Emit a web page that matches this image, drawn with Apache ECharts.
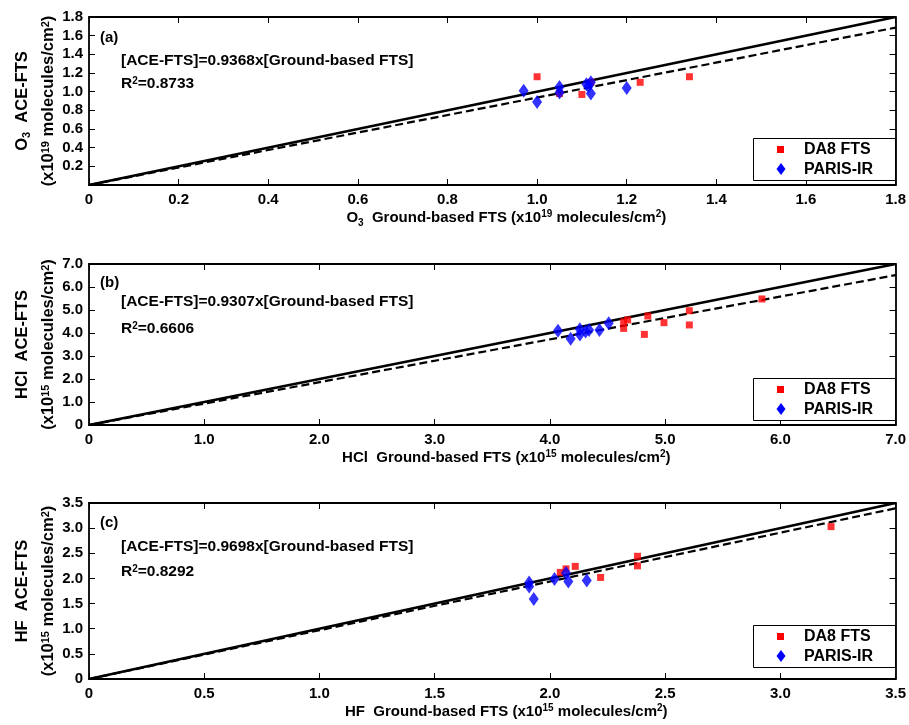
<!DOCTYPE html>
<html>
<head>
<meta charset="utf-8">
<script src="https://cdn.jsdelivr.net/npm/echarts@6/dist/echarts.min.js"></script>
<style>
  html, body { margin: 0; padding: 0; background: #fff; }
  #chart { width: 909px; height: 725px; }
</style>
</head>
<body>
<div id="chart"></div>
<script>
// ---- Data: [ground-based FTS, ACE-FTS] column pairs ----
// O3 (x10^19 molecules/cm^2)
const o3Da8 = [[1.00, 1.16], [1.05, 0.98], [1.10, 0.97], [1.12, 1.10], [1.23, 1.10], [1.34, 1.16]];
const o3Paris = [[0.97, 1.01], [1.00, 0.89], [1.05, 1.05], [1.05, 0.99], [1.11, 1.08], [1.115, 1.06], [1.12, 1.10], [1.12, 0.98], [1.20, 1.04]];
// HCl (x10^15 molecules/cm^2)
const hclDa8 = [[4.64, 4.20], [4.64, 4.49], [4.675, 4.57], [4.82, 3.94], [4.85, 4.74], [4.99, 4.45], [5.21, 4.97], [5.21, 4.35], [5.84, 5.48]];
const hclParis = [[4.07, 4.10], [4.18, 3.75], [4.26, 3.94], [4.26, 4.16], [4.31, 4.06], [4.34, 4.13], [4.43, 4.13], [4.51, 4.42]];
// HF (x10^15 molecules/cm^2)
const hfDa8 = [[3.22, 3.03], [2.38, 2.44], [2.38, 2.25], [2.11, 2.24], [2.07, 2.19], [2.045, 2.12], [2.22, 2.02]];
const hfParis = [[1.91, 1.92], [1.91, 1.84], [1.93, 1.59], [2.02, 1.99], [2.07, 2.11], [2.08, 1.94], [2.16, 1.96]];

// Regression results
const slopes = [0.9368, 0.9307, 0.9698];
const rSquared = ['0.8733', '0.6606', '0.8292'];

// Axis ranges and tick steps
const axisMax = [1.8, 7.0, 3.5];
const axisStep = [0.2, 1.0, 0.5];
const hideZeroY = [true, false, false];

// Labels
const panelTags = ['(a)', '(b)', '(c)'];
const gasName = ['{b|O}{sub|3}', '{b|HCl}', '{b|HF}'];
const exponent = ['19', '15', '15'];
const seriesNames = ['DA8 FTS', 'PARIS-IR'];

const panelData = [[o3Da8, o3Paris], [hclDa8, hclParis], [hfDa8, hfParis]];

// ---- Layout ----
const FONT = '"Liberation Sans", Arial, Helvetica, sans-serif';
const gridLeft = 89, gridRight = 11;
const gridBoxes = [{ top: 17, height: 168 }, { top: 264, height: 161 }, { top: 503, height: 176 }];
const textOffsets = [[21, 44, 68], [19, 38, 66], [20, 44, 70]];
const legendGap = [5, 5, 12];

const richStyles = {
  b:   { fontFamily: FONT, fontWeight: 'bold', fontSize: 15, color: '#000', lineHeight: 16, verticalAlign: 'bottom' },
  sup: { fontFamily: FONT, fontWeight: 'bold', fontSize: 10, color: '#000', lineHeight: 11, verticalAlign: 'top' },
  sub: { fontFamily: FONT, fontWeight: 'bold', fontSize: 10, color: '#000', lineHeight: 10, verticalAlign: 'bottom', padding: [0, 0, -3, 0] }
};
// vertical axis titles: slightly larger type and wider line spacing
const richY = {
  b:   { fontFamily: FONT, fontWeight: 'bold', fontSize: 16.5, color: '#000', lineHeight: 26, verticalAlign: 'top' },
  sup: { fontFamily: FONT, fontWeight: 'bold', fontSize: 11, color: '#000', verticalAlign: 'top' },
  sub: { fontFamily: FONT, fontWeight: 'bold', fontSize: 11, color: '#000', verticalAlign: 'top', padding: [7, 0, 0, 0] }
};

const fmt = (v, hideZero) => {
  if (Math.abs(v) < 1e-9) return hideZero ? '' : '0';
  return v.toFixed(1);
};

const grid = [], xAxis = [], yAxis = [], series = [], graphic = [];

panelData.forEach((pair, i) => {
  const g = gridBoxes[i];
  grid.push({ left: gridLeft, right: gridRight, top: g.top, height: g.height, containLabel: false });

  const tickLabel = { fontFamily: FONT, fontWeight: 'bold', fontSize: 15, color: '#000' };
  const axisLine = { show: true, onZero: false, lineStyle: { color: '#000', width: 1.8 } };
  const axisTick = { show: true, inside: true, length: 6, lineStyle: { color: '#000', width: 1 } };
  const unit = '{b|(x10}{sup|' + exponent[i] + '}{b| molecules/cm}{sup|2}{b|)}';

  // bottom and top x axes
  xAxis.push({
    type: 'value', gridIndex: i, min: 0, max: axisMax[i], interval: axisStep[i],
    position: 'bottom',
    axisLine, axisTick, splitLine: { show: false },
    axisLabel: Object.assign({ margin: 7, formatter: v => fmt(v, false) }, tickLabel),
    name: gasName[i] + '{b|  Ground-based FTS }' + unit,
    nameLocation: 'middle', nameGap: 24,
    nameTextStyle: { rich: richStyles, padding: [0, 0, 0, 28] }
  });
  xAxis.push({
    type: 'value', gridIndex: i, min: 0, max: axisMax[i], interval: axisStep[i],
    position: 'top', axisLine, axisTick, axisLabel: { show: false }, splitLine: { show: false }
  });

  // left and right y axes
  yAxis.push({
    type: 'value', gridIndex: i, min: 0, max: axisMax[i], interval: axisStep[i],
    position: 'left',
    axisLine, axisTick, splitLine: { show: false },
    axisLabel: Object.assign({ margin: 6, formatter: v => fmt(v, hideZeroY[i]) }, tickLabel),
    name: gasName[i] + '{b|  ACE-FTS}\n' + unit,
    nameLocation: 'middle', nameRotate: 90, nameGap: 23, nameMoveOverlap: false,
    nameTextStyle: { rich: richY, align: 'center' }
  });
  yAxis.push({
    type: 'value', gridIndex: i, min: 0, max: axisMax[i], interval: axisStep[i],
    position: 'right', axisLine, axisTick, axisLabel: { show: false }, splitLine: { show: false }
  });

  const xi = i * 2, yi = i * 2;
  const top = axisMax[i];

  // 1:1 reference line
  series.push({
    type: 'line', xAxisIndex: xi, yAxisIndex: yi, silent: true, symbol: 'none', z: 2,
    lineStyle: { color: '#000', width: 2.6, type: 'solid' },
    data: [[0, 0], [top, top]]
  });
  // fitted line through origin
  series.push({
    type: 'line', xAxisIndex: xi, yAxisIndex: yi, silent: true, symbol: 'none', z: 2,
    lineStyle: { color: '#000', width: 2.2, type: [8, 4] },
    data: [[0, 0], [top, top * slopes[i]]]
  });
  // measurements
  series.push({
    name: seriesNames[0], type: 'scatter', xAxisIndex: xi, yAxisIndex: yi, z: 3,
    symbol: 'rect', symbolSize: 7, itemStyle: { color: '#ff0000' },
    data: pair[0]
  });
  series.push({
    name: seriesNames[1], type: 'scatter', xAxisIndex: xi, yAxisIndex: yi, z: 4,
    symbol: 'diamond', symbolSize: [10, 14], itemStyle: { color: '#0000ff' },
    data: pair[1]
  });

  // annotations
  const to = textOffsets[i];
  graphic.push({
    type: 'text', x: 100, y: g.top + to[0], z: 10,
    style: { text: panelTags[i], font: 'bold 15px ' + FONT, fill: '#000', verticalAlign: 'middle' }
  });
  graphic.push({
    type: 'text', x: 121, y: g.top + to[1], z: 10,
    style: { text: '[ACE-FTS]=' + slopes[i].toFixed(4) + 'x[Ground-based FTS]', font: 'bold 15.5px ' + FONT, fill: '#000', verticalAlign: 'middle' }
  });
  graphic.push({
    type: 'text', x: 121, y: g.top + to[2] - 9, z: 10,
    style: { text: '{b|R}{sup|2}{b|=' + rSquared[i] + '}', rich: {
      b: Object.assign({}, richStyles.b, { fontSize: 15.5 }), sup: richStyles.sup }, verticalAlign: 'top' }
  });

  // legend box
  const boxH = 42, boxTop = g.top + g.height - legendGap[i] - boxH;
  graphic.push({
    type: 'rect', z: 20,
    shape: { x: 753.5, y: boxTop + 0.5, width: 142, height: boxH },
    style: { fill: '#fff', stroke: '#000', lineWidth: 1 }
  });
  graphic.push({
    type: 'rect', z: 21,
    shape: { x: 777, y: boxTop + 8, width: 7, height: 7 },
    style: { fill: '#ff0000' }
  });
  graphic.push({
    type: 'polygon', z: 21,
    shape: { points: [[781, boxTop + 25], [785.5, boxTop + 31], [781, boxTop + 37], [776.5, boxTop + 31]] },
    style: { fill: '#0000ff' }
  });
  graphic.push({
    type: 'text', x: 804, y: boxTop + 12, z: 21,
    style: { text: seriesNames[0], font: 'bold 16px ' + FONT, fill: '#000', verticalAlign: 'middle' }
  });
  graphic.push({
    type: 'text', x: 804, y: boxTop + 32, z: 21,
    style: { text: seriesNames[1], font: 'bold 16px ' + FONT, fill: '#000', verticalAlign: 'middle' }
  });
});

const chart = echarts.init(document.getElementById('chart'), null, { renderer: 'canvas' });
chart.setOption({
  backgroundColor: '#fff',
  animation: false,
  grid, xAxis, yAxis, series, graphic
});
</script>
</body>
</html>
